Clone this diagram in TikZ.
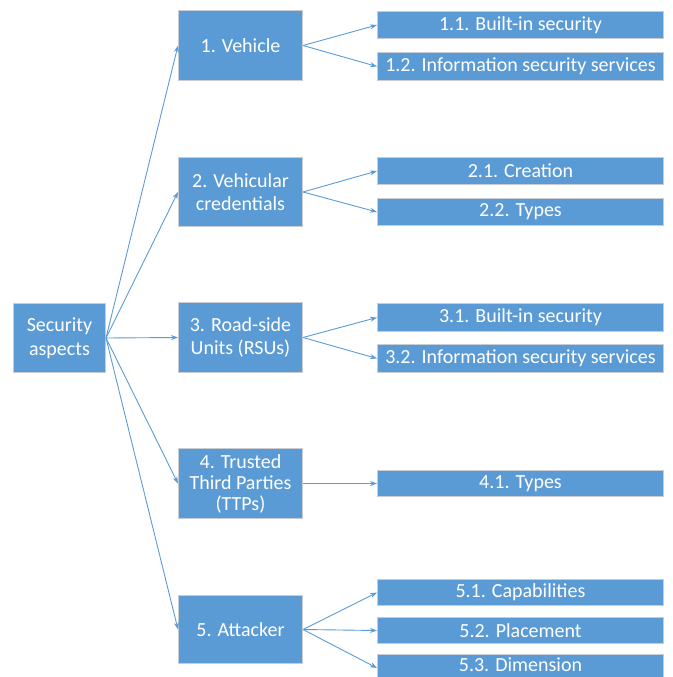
\documentclass[tikz,border=0pt]{standalone}
\usepackage{fontspec}
\setmainfont{Carlito}
\usetikzlibrary{arrows.meta}
\definecolor{boxblue}{HTML}{5B9BD5}
\definecolor{boxedge}{HTML}{C9CDD3}
\tikzset{
  box/.style={draw=boxedge, line width=1pt, fill=boxblue, text=white, font=\fontsize{20}{23.5}\selectfont, align=center, inner sep=0pt, anchor=north west},
  tight/.style={font=\fontsize{20}{21}\selectfont},
  conn/.style={draw=boxblue, line width=0.9pt, -{Stealth[length=7pt,width=5pt]}}
}
\newcommand{\boxat}[7][]{% opts, name, x1, y1, x2, y2, text
  \node[box, #1, minimum width={#5-#3}, minimum height={#6-#4}] (#2) at (#3,#4) {#7};}
\begin{document}
\begin{tikzpicture}[x=1pt,y=-1pt]
\useasboundingbox (0,0) rectangle (672,677);
\boxat{root}{13}{303}{105}{372}{Security\\aspects}
\boxat{a}{178}{10}{302}{80}{1. Vehicle}
\boxat{b}{178}{157}{302}{226}{2. Vehicular\\credentials}
\boxat{c}{178}{302}{302}{372}{3. Road-side\\Units (RSUs)}
\boxat[tight]{d}{178}{448}{302}{518}{4. Trusted\\Third Parties\\(TTPs)}
\boxat{e}{178}{595}{302}{663}{5. Attacker}
\boxat{a1}{377}{11}{663}{38}{1.1. Built-in security}
\boxat{a2}{377}{52}{663}{80}{1.2. Information security services}
\boxat{b1}{377}{157}{663}{184}{2.1. Creation}
\boxat{b2}{377}{198}{663}{225}{2.2. Types}
\boxat{c1}{377}{303}{663}{331}{3.1. Built-in security}
\boxat{c2}{377}{344}{663}{372}{3.2. Information security services}
\boxat{d1}{377}{470}{663}{496}{4.1. Types}
\boxat{e1}{377}{579}{663}{605}{5.1. Capabilities}
\boxat{e2}{377}{617}{663}{643}{5.2. Placement}
\boxat{e3}{377}{654}{663}{681}{\raisebox{3pt}[\height][\depth]{5.3. Dimension}}
\foreach \t in {a,b,c,d,e} \draw[conn] (root.east) -- (\t.west);
\foreach \t in {a1,a2} \draw[conn] (a.east) -- (\t.west);
\foreach \t in {b1,b2} \draw[conn] (b.east) -- (\t.west);
\foreach \t in {c1,c2} \draw[conn] (c.east) -- (\t.west);
\draw[conn] (d.east) -- (d1.west);
\foreach \t in {e1,e2,e3} \draw[conn] (e.east) -- (\t.west);
\end{tikzpicture}
\end{document}
